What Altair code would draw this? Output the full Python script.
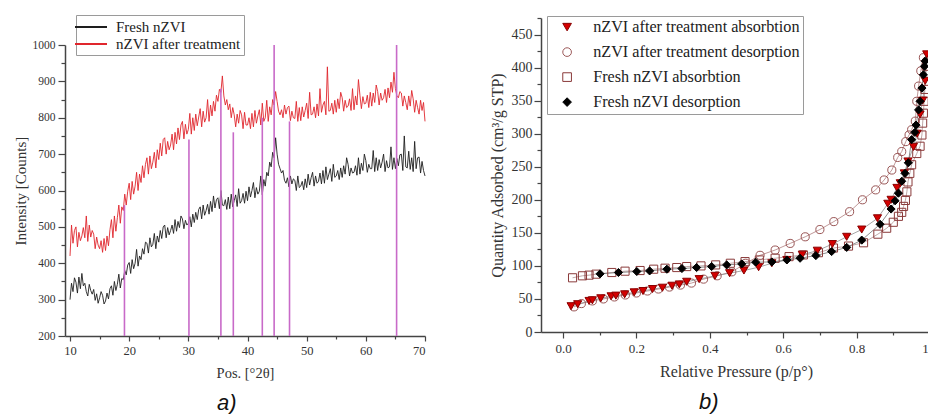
import altair as alt
import pandas as pd

# ---------------- Panel a: XRD ----------------
XRD_START, XRD_STEP = 10.0, 0.25
fresh_xrd = [
    300, 345, 322, 360, 348, 318, 362, 330, 372, 338, 345, 322, 310, 342, 325, 315,
    328, 298, 316, 290, 305, 322, 312, 288, 296, 318, 302, 330, 338, 312, 350, 325,
    342, 370, 332, 358, 355, 380, 368, 395, 402, 372, 410, 385, 400, 438, 392, 420,
    410, 440, 425, 458, 455, 428, 470, 445, 452, 482, 440, 475, 458, 490, 468, 500,
    505, 470, 498, 478, 490, 505, 482, 520, 488, 515, 498, 530, 522, 495, 518, 505,
    510, 528, 500, 535, 512, 540, 520, 548, 555, 522, 560, 532, 545, 562, 535, 570,
    542, 585, 552, 575, 580, 550, 600, 560, 558, 575, 548, 582, 550, 590, 555, 572,
    588, 556, 605, 565, 572, 592, 565, 598, 572, 610, 582, 600, 622, 580, 608, 590,
    598, 640, 588, 630, 612, 650, 640, 678, 665, 705, 690, 745, 700, 672, 660, 648,
    655, 628, 620, 635, 610, 640, 618, 632, 628, 600, 640, 608, 612, 625, 602, 632,
    608, 645, 615, 635, 650, 612, 640, 620, 625, 648, 618, 655, 620, 665, 630, 645,
    660, 625, 672, 636, 640, 655, 630, 662, 636, 668, 645, 690, 672, 640, 662, 648,
    650, 668, 642, 690, 645, 675, 655, 700, 682, 650, 672, 660, 660, 710, 652, 690,
    655, 685, 662, 678, 700, 652, 682, 662, 665, 720, 658, 690, 660, 688, 668, 698,
    700, 655, 750, 665, 662, 708, 658, 690, 652, 735, 660, 690, 692, 648, 680, 655,
    640,
]
treated_xrd = [
    420, 505, 455, 490, 500, 445, 485, 462, 475, 498, 470, 530, 460, 505, 472, 490,
    480, 440, 472, 450, 440, 462, 430, 468, 435, 475, 448, 492, 520, 470, 530, 488,
    525, 560, 510, 555, 545, 590, 560, 598, 620, 575, 625, 590, 612, 650, 600, 645,
    622, 668, 635, 672, 690, 645, 695, 660, 678, 705, 662, 712, 685, 730, 695, 740,
    745, 700, 735, 712, 725, 755, 712, 760, 728, 772, 740, 780, 790, 742, 782, 755,
    768, 812, 755, 800, 765, 810, 778, 802, 825, 775, 818, 788, 800, 850, 790, 835,
    805, 845, 818, 862, 845, 878, 870, 915, 860, 835, 850, 822, 838, 800, 828, 808,
    775, 810, 785, 820, 808, 770, 815, 780, 780, 800, 770, 812, 775, 820, 785, 805,
    822, 780, 840, 790, 800, 848, 790, 830, 808, 850, 835, 872, 845, 818, 808, 822,
    800, 835, 810, 828, 832, 792, 818, 800, 798, 845, 790, 828, 792, 830, 802, 820,
    840, 798, 870, 808, 810, 830, 800, 838, 805, 880, 815, 835, 845, 808, 940, 818,
    820, 840, 810, 848, 815, 852, 825, 870, 855, 818, 848, 828, 832, 852, 820, 880,
    822, 860, 835, 905, 862, 825, 858, 838, 840, 862, 828, 870, 832, 868, 842, 890,
    872, 835, 868, 848, 855, 878, 842, 882, 855, 898, 870, 925, 880, 860, 855, 872,
    868, 832, 860, 842, 822, 860, 832, 875, 852, 815, 848, 828, 810, 848, 820, 842,
    790,
]
xrd_pos = [XRD_START + XRD_STEP * i for i in range(len(fresh_xrd))]

stick_pos = [19.2, 30.1, 35.5, 37.6, 42.5, 44.5, 47.1, 65.2]
stick_top = [560, 740, 880, 760, 800, 1000, 790, 1000]
stick_base = [200] * len(stick_pos)

XRD_SERIES = ["Fresh nZVI", "nZVI after treatment"]

# ---------------- Panel b: isotherms ----------------
ISO_SERIES = [
    "nZVI after treatment absorbtion",
    "nZVI after treatment desorption",
    "Fresh nZVI absorbtion",
    "Fresh nZVI desorption",
]
after_abs_p = [0.022, 0.040, 0.071, 0.080, 0.103, 0.131, 0.144, 0.168, 0.194, 0.218,
               0.244, 0.271, 0.297, 0.317, 0.337, 0.371, 0.414, 0.454, 0.493, 0.533,
               0.569, 0.610, 0.652, 0.693, 0.734, 0.773, 0.814, 0.857, 0.885, 0.894,
               0.910, 0.919, 0.930, 0.940, 0.955, 0.965, 0.973, 0.980, 0.987, 0.991]
after_abs_q = [39, 42, 47, 48, 51, 54, 55, 57, 60, 62,
               65, 67, 70, 72, 76, 80, 85, 89, 93, 98,
               104, 109, 117, 123, 133, 144, 155, 172, 194, 200,
               218, 225, 240, 258, 280, 300, 329, 350, 380, 420]

after_des_p = [0.030, 0.050, 0.080, 0.110, 0.140, 0.170, 0.200, 0.230, 0.260, 0.290,
               0.320, 0.350, 0.383, 0.420, 0.460, 0.498, 0.537, 0.578, 0.619, 0.660,
               0.700, 0.738, 0.781, 0.816, 0.852, 0.875, 0.896, 0.912, 0.923, 0.934,
               0.943, 0.950, 0.960, 0.964, 0.969, 0.975, 0.982]
after_des_q = [38, 43, 47, 50, 53, 56, 59, 62, 65, 68,
               71, 74, 80, 85, 91, 104, 116, 124, 134, 144,
               155, 167, 182, 200, 215, 230, 245, 264, 273, 288,
               298, 306, 319, 349, 372, 395, 415]

fresh_abs_p = [0.026, 0.053, 0.071, 0.090, 0.133, 0.169, 0.210, 0.247, 0.278, 0.310,
               0.337, 0.376, 0.416, 0.456, 0.496, 0.535, 0.578, 0.616, 0.655, 0.696,
               0.737, 0.778, 0.819, 0.858, 0.882, 0.900, 0.914, 0.923, 0.928, 0.933,
               0.937, 0.940, 0.945, 0.950, 0.964, 0.973, 0.978, 0.980, 0.982, 0.984,
               0.986, 0.990]
fresh_abs_q = [82, 85, 86, 87.5, 90, 92, 93, 95, 96.5, 97.5,
               99, 100, 101.5, 104, 106.5, 109, 111.6, 114, 116.6, 120,
               127, 130, 135, 148, 157, 166, 175, 181, 190, 199,
               212, 227, 240, 253, 270, 281, 298, 316, 331, 349,
               367, 402]

fresh_des_p = [0.101, 0.151, 0.201, 0.236, 0.283, 0.324, 0.364, 0.405, 0.446, 0.487,
               0.525, 0.569, 0.610, 0.646, 0.689, 0.732, 0.773, 0.814, 0.864, 0.894,
               0.905, 0.914, 0.923, 0.932, 0.941, 0.950, 0.959, 0.962, 0.969, 0.973,
               0.978, 0.982, 0.985, 0.987]
fresh_des_q = [88, 90, 91.5, 92.4, 95, 96, 97.5, 99, 101.5, 103,
               105.6, 106, 109, 111.6, 115.6, 121.7, 128, 139, 163, 186,
               198.5, 210, 228, 240, 256, 291, 302, 313, 336, 349,
               369, 389, 402, 410]

SERIF = "Liberation Serif"

# ---------- build tables ----------
xrd = pd.DataFrame({
    "pos": xrd_pos + xrd_pos,
    "intensity": fresh_xrd + treated_xrd,
    "series": [XRD_SERIES[0]] * len(fresh_xrd) + [XRD_SERIES[1]] * len(treated_xrd),
})
sticks = pd.DataFrame({"pos": stick_pos, "top": stick_top, "base": stick_base})

iso_parts = []
# drawing order: squares, circles, triangles, diamonds
for draw, (name, ps, qs) in enumerate([
    (ISO_SERIES[2], fresh_abs_p, fresh_abs_q),
    (ISO_SERIES[1], after_des_p, after_des_q),
    (ISO_SERIES[0], after_abs_p, after_abs_q),
    (ISO_SERIES[3], fresh_des_p, fresh_des_q),
]):
    iso_parts.append(pd.DataFrame({"p": ps, "q": qs, "series": name, "draw": draw}))
iso = pd.concat(iso_parts, ignore_index=True)

# ---------- panel a ----------
A_H = 318  # plot height; the 200..1000 axis occupies the lower 291 px
xa_scale = alt.Scale(domain=[9.15, 70], nice=False, zero=False)
ya_scale = alt.Scale(domain=[200, 1000], range=[A_H, A_H - 291], nice=False, zero=False)

leg_a = alt.Legend(
    title=None, orient="none", legendX=11, legendY=-3,
    strokeColor="#9a9a9a", fillColor="white", padding=3,
    symbolType="M-2,0H2", symbolStrokeWidth=2, symbolSize=256,
    symbolOffset=3, labelOffset=16,
    labelFont=SERIF, labelFontSize=15, labelColor="#222", labelLimit=400,
    rowPadding=-1,
)

lines_a = alt.Chart(xrd).mark_line(strokeWidth=0.9).encode(
    x=alt.X("pos:Q", scale=xa_scale,
            axis=alt.Axis(values=[10, 20, 30, 40, 50, 60, 70], format="d",
                          title="Pos. [°2θ]", tickSize=5, labelPadding=3,
                          labelFontSize=12.5, titleFontSize=14.5, titlePadding=10)),
    y=alt.Y("intensity:Q", scale=ya_scale,
            axis=alt.Axis(values=list(range(200, 1001, 100)), format="d",
                          title="Intensity [Counts]", tickSize=7, labelPadding=3,
                          labelFontSize=11.5, titleFontSize=15, titlePadding=4)),
    color=alt.Color("series:N", scale=alt.Scale(domain=XRD_SERIES,
                                                 range=["#1e1e1e", "#e0262d"]),
                    legend=leg_a),
    detail="series:N",
)

sticks_a = alt.Chart(sticks).mark_rule(color="#c86ac8", strokeWidth=1.6).encode(
    x=alt.X("pos:Q", scale=xa_scale,
            axis=alt.Axis(values=[15, 25, 35, 45, 55, 65], labels=False, domain=False,
                          tickSize=3, title=None, orient="bottom")),
    y=alt.Y("top:Q", scale=ya_scale,
            axis=alt.Axis(values=list(range(250, 1000, 100)), labels=False, domain=False,
                          tickSize=4, title=None, orient="left")),
    y2="base:Q",
)

panel_a = alt.layer(lines_a, sticks_a).resolve_axis(
    x="independent", y="independent"
).properties(
    width=360, height=A_H,
    title=alt.TitleParams("a)", orient="bottom", anchor="start", frame="group",
                          dx=152, offset=13, font="Liberation Sans", fontSize=22,
                          fontStyle="italic", fontWeight="normal", color="#111"),
)

# ---------- panel b ----------
xb_scale = alt.Scale(domain=[-0.06, 1.06], nice=False, zero=False)
yb_scale = alt.Scale(domain=[0, 475], nice=False, zero=False)

leg_b = alt.Legend(
    title=None, orient="none", legendX=6, legendY=-2,
    strokeColor="#9a9a9a", fillColor="white", padding=3,
    labelFont=SERIF, labelFontSize=16.2, labelColor="#222", labelLimit=500,
    symbolSize=75, symbolStrokeWidth=1, symbolOffset=9,
    rowPadding=8, labelOffset=18,
)

lines_b = alt.Chart(iso).mark_line(strokeWidth=0.8).encode(
    x=alt.X("p:Q", scale=xb_scale,
            axis=alt.Axis(values=[0, 0.2, 0.4, 0.6, 0.8, 1.0], format=".1f",
                          title="Relative Pressure (p/p°)", tickSize=6, labelPadding=4,
                          labelFontSize=13, titleFontSize=16,
                          titlePadding=8, titleX=195)),
    y=alt.Y("q:Q", scale=yb_scale,
            axis=alt.Axis(values=list(range(0, 451, 50)), format="d",
                          title="Quantity Adsorbed (cm³/g STP)", tickSize=7,
                          labelPadding=2, labelFontSize=14, titleFontSize=16,
                          titlePadding=6)),
    color=alt.Color("series:N", scale=alt.Scale(
        domain=ISO_SERIES, range=["#8e8e8e", "#b07e7e", "#b09090", "#6e6e6e"]),
        legend=None),
    detail="series:N",
    order="p:Q",
)

points_b = alt.Chart(iso).mark_point(size=66, strokeWidth=1, opacity=1).encode(
    x=alt.X("p:Q", scale=xb_scale,
            axis=alt.Axis(values=[0.1, 0.3, 0.5, 0.7, 0.9], labels=False, domain=False,
                          tickSize=3, title=None, orient="bottom")),
    y=alt.Y("q:Q", scale=yb_scale,
            axis=alt.Axis(values=list(range(25, 476, 50)), labels=False, domain=False,
                          tickSize=4, title=None, orient="left")),
    shape=alt.Shape("series:N", scale=alt.Scale(
        domain=ISO_SERIES, range=["triangle-down", "circle", "square", "diamond"]),
        legend=leg_b),
    stroke=alt.Stroke("series:N", scale=alt.Scale(
        domain=ISO_SERIES, range=["#8a0000", "#9a5656", "#8a3a3a", "#000000"]),
        legend=leg_b),
    fill=alt.Fill("series:N", scale=alt.Scale(
        domain=ISO_SERIES, range=["#d40000", "transparent", "transparent", "#000000"]),
        legend=leg_b),
    order=alt.Order("draw:Q"),
)

panel_b = alt.layer(lines_b, points_b).resolve_axis(
    x="independent", y="independent"
).resolve_scale(color="independent").properties(
    width=411, height=314,
    title=alt.TitleParams("b)", orient="bottom", anchor="start", frame="group",
                          dx=158, offset=13, font="Liberation Sans", fontSize=22,
                          fontStyle="italic", fontWeight="normal", color="#111"),
)

chart = alt.hconcat(panel_a, panel_b, spacing=62).resolve_scale(
    color="independent", shape="independent", stroke="independent", fill="independent"
).resolve_legend(
    color="independent", shape="independent", stroke="independent", fill="independent"
).properties(
    padding={"left": 5, "top": 6, "right": -24, "bottom": 0},
).configure_view(stroke=None).configure_axis(
    grid=False,
    domainColor="#444", domainWidth=1.5,
    tickColor="#444", tickWidth=1.2,
    labelFont=SERIF, labelFontSize=11.5, labelColor="#333",
    titleFont=SERIF, titleFontSize=14, titleFontWeight="normal", titleColor="#333",
).configure_title(font="Liberation Sans")

chart.save("out.html", embed_options={"renderer": "svg", "actions": False})
